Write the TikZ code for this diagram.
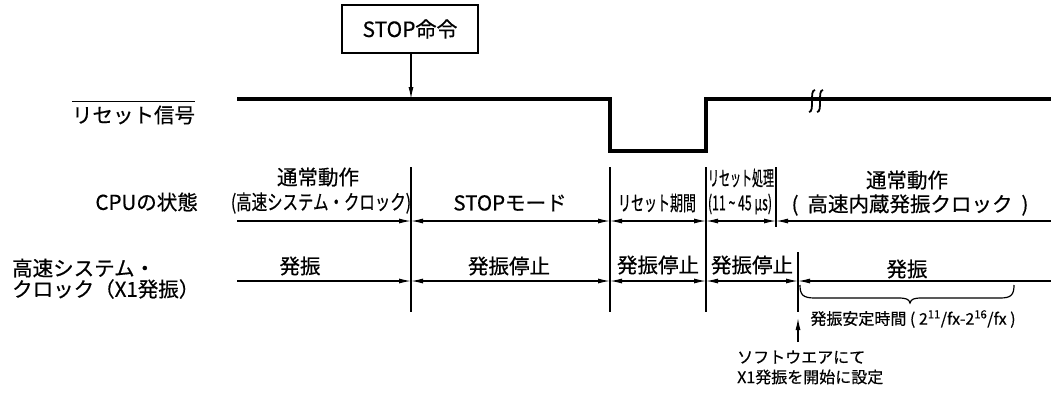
\documentclass[tikz,border=0pt]{standalone}
\usepackage{fontspec}
\setmainfont{Noto Sans CJK JP}[FakeBold=0.5]
\usepackage{graphicx}
\usetikzlibrary{arrows.meta}
\newcommand\sqz[2]{\resizebox{#1}{\height}{#2}}
\begin{document}
\begin{tikzpicture}[x=1pt,y=-1pt,
  every node/.style={inner sep=0pt},
  lbl/.style={font=\fontsize{20.5}{24}\selectfont},
  sml/.style={font=\fontsize{16}{19}\selectfont},
  thinln/.style={line width=1.2pt},
  sig/.style={line width=3.2pt},
  arr/.style={thinln,-{Latex[length=12pt,width=5pt]}},
  darr/.style={thinln,{Latex[length=12pt,width=5pt]}-{Latex[length=12pt,width=5pt]}}]
\fill[white] (0,0) rectangle (1051,394);
\useasboundingbox (0,0) rectangle (1051,394);

% STOP instruction
\node[draw,line width=1.1pt,minimum width=136pt,minimum height=48pt,font=\fontsize{21}{24}\selectfont] (stop) at (410,29) {STOP命令};
\coordinate (hit) at (411,99);
\draw[arr] (stop.south -| hit) -- (hit);

% reset signal
\coordinate (r0) at (237,99);
\coordinate (r1) at (610,99);
\coordinate (r2) at (610,151);
\coordinate (r3) at (706,151);
\coordinate (r4) at (706,99);
\coordinate (r5) at (1051,99);
\draw[sig,line join=miter] (r0) -- (r1) -- (r2) -- (r3) -- (r4) -- (r5);
\foreach \bx in {812,820}
  \draw[line width=1.8pt] (\bx+3,90) .. controls (\bx,90) and (\bx,95) .. (\bx,101) .. controls (\bx,107) and (\bx,112) .. (\bx-3,112);

% labels left
\node[lbl] (rsl) at (133.5,115) {リセット信号};
\draw[line width=1pt] (rsl.west |- 0,101) -- (rsl.east |- 0,101);
\node[lbl,anchor=east] (cpu) at (198,202) {CPUの状態};
\node[lbl,anchor=west] (hs1) at (12,268) {高速システム・};
\node[lbl,anchor=west] (hs2) at (12,289) {クロック（X1発振）};

% dividers
\coordinate (d1t) at (411,167); \coordinate (d1b) at (411,312);
\coordinate (d2t) at (610,167); \coordinate (d2b) at (610,312);
\coordinate (d3t) at (706,167); \coordinate (d3b) at (706,312);
\coordinate (d4t) at (776,167); \coordinate (d4b) at (776,227);
\coordinate (d5t) at (798,252); \coordinate (d5b) at (798,312);
\foreach \i in {1,...,5} \draw[thinln] (d\i t) -- (d\i b);

% CPU row
\coordinate (ca) at (237,221);
\coordinate (c1) at (411,221);
\coordinate (c2) at (610,221);
\coordinate (c3) at (706,221);
\coordinate (c4) at (776,221);
\coordinate (cz) at (1051,221);
\draw[arr] (ca) -- (c1);
\draw[darr] (c1) -- (c2);
\draw[darr] (c2) -- (c3);
\draw[darr] (c3) -- (c4);
\draw[arr] (cz) -- (c4);

% oscillation row
\coordinate (oa) at (237,281);
\coordinate (o1) at (411,281);
\coordinate (o2) at (610,281);
\coordinate (o3) at (706,281);
\coordinate (o4) at (798,281);
\coordinate (oz) at (1051,281);
\draw[arr] (oa) -- (o1);
\draw[darr] (o1) -- (o2);
\draw[darr] (o2) -- (o3);
\draw[darr] (o3) -- (o4);
\draw[arr] (oz) -- (o4);

% CPU state texts
\node[lbl] (n1a) at (318,177) {通常動作};
\node[lbl] (n1b) at (321,203) {\sqz{180pt}{(高速システム・クロック)}};
\node[lbl] (stm) at (510,203) {STOPモード};
\node[lbl] (rp) at (657,203) {\sqz{78pt}{リセット期間}};
\node[lbl] (rs1) at (741,178) {\sqz{66pt}{リセット処理}};
\node[lbl] (rs2) at (740,204) {\sqz{64pt}{(11 \textasciitilde\ 45 μs)}};
\node[lbl] (n2a) at (907,180) {通常動作};
\node[lbl] (n2b) at (910,205) {(\hspace{9pt}高速内蔵発振クロック\hspace{9pt})};

% oscillation texts
\node[lbl] (os1) at (300,266) {発振};
\node[lbl] (os2) at (509,266) {発振停止};
\node[lbl] (os3) at (658,265) {発振停止};
\node[lbl] (os4) at (752,265) {発振停止};
\node[lbl] (os5) at (907,269) {発振};

% brace
\draw[thinln] (800,285) .. controls (800,295) and (803,298) .. (815,298) -- (898,298)
  .. controls (906,298) and (909,299) .. (910,303)
  .. controls (911,299) and (914,298) .. (922,298) -- (1000,298)
  .. controls (1011,298) and (1014,295) .. (1014,285);
\node[sml] (stab) at (913,319) {発振安定時間 ( 2\textsuperscript{11}/fx-2\textsuperscript{16}/fx )};

% software note
\node[sml,anchor=west] (sw1) at (737,357) {ソフトウエアにて};
\node[sml,anchor=west] (sw2) at (737,377) {X1発振を開始に設定};
\coordinate (swt) at (798,318);
\coordinate (swb) at (798,342);
\draw[arr] (swb) -- (swt);
\end{tikzpicture}
\end{document}
